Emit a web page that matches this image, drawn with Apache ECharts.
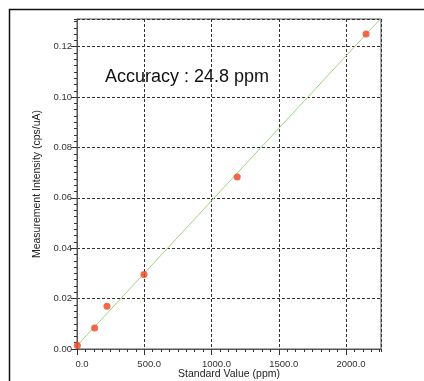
<!DOCTYPE html>
<html>
<head>
<meta charset="utf-8">
<script src="https://cdn.jsdelivr.net/npm/echarts@6/dist/echarts.min.js"></script>
<style>
  html, body {margin: 0; padding: 0; background: #fff;}
  #chart {width: 424px; height: 381px;}
</style>
</head>
<body>
<div id="chart"></div>
<script>
  // standards (ppm) and measured intensity (cps/uA)
  const standardValues = [3, 131, 223, 498, 1191, 2149];
  const intensities = [0.0014, 0.0083, 0.0170, 0.0296, 0.0683, 0.1250];
  // calibration line end points
  const fitX = [0, 2260];
  const fitY = [0.0013, 0.1313];
  const xRange = [0, 2260];
  const yRange = [0, 0.131];
  const accuracyText = 'Accuracy : 24.8 ppm';

  const font = 'Liberation Sans, Arial, Helvetica, sans-serif';
  const axisColor = '#555';

  const chart = echarts.init(document.getElementById('chart'));

  const mainX = {
    type: 'value',
    min: xRange[0], max: xRange[1], interval: 500,
    axisLine: {lineStyle: {color: axisColor, width: 1}},
    axisTick: {length: 6, lineStyle: {color: '#333'}},
    axisLabel: {
      color: '#333', fontFamily: font, fontSize: 9.5, margin: 10,
      padding: [0, 0, 0, 10],
      showMaxLabel: false,
      formatter: v => (v % 500 === 0 ? v.toFixed(1) : '')
    },
    splitLine: {lineStyle: {color: '#333', type: [3, 2], width: 1}},
    name: 'Standard Value (ppm)',
    nameLocation: 'middle', nameGap: 20, nameMoveOverlap: false,
    nameTextStyle: {color: '#222', fontFamily: font, fontSize: 10.5}
  };
  const minorX = {
    type: 'value',
    position: 'bottom',
    min: xRange[0], max: xRange[1], interval: 62.5,
    axisLine: {show: false},
    axisTick: {length: 3, lineStyle: {color: '#333'}},
    axisLabel: {show: false},
    splitLine: {show: false}
  };
  const mainY = {
    type: 'value',
    min: yRange[0], max: yRange[1], interval: 0.02,
    axisLine: {show: true, lineStyle: {color: axisColor, width: 1}},
    axisTick: {show: true, length: 6, lineStyle: {color: '#333'}},
    axisLabel: {
      color: '#333', fontFamily: font, fontSize: 9.5, margin: 5,
      showMaxLabel: false,
      formatter: v => v.toFixed(2)
    },
    splitLine: {lineStyle: {color: '#333', type: [3, 2], width: 1}},
    name: 'Measurement Intensity (cps/uA)',
    nameLocation: 'middle', nameGap: 34, nameMoveOverlap: false,
    nameTextStyle: {color: '#222', fontFamily: font, fontSize: 10.5}
  };
  const minorY = {
    type: 'value',
    position: 'left',
    min: yRange[0], max: yRange[1], interval: 0.0025,
    axisLine: {show: false},
    axisTick: {show: true, length: 3, lineStyle: {color: '#333'}},
    axisLabel: {show: false},
    splitLine: {show: false}
  };

  chart.setOption({
    animation: false,
    backgroundColor: '#fff',
    grid: {
      left: 77, top: 19, right: 43, bottom: 32,
      outerBoundsMode: 'none',
      show: true, borderColor: axisColor, borderWidth: 1
    },
    xAxis: [mainX, minorX],
    yAxis: [mainY, minorY],
    graphic: [
      {
        type: 'rect', left: 7, top: 7, silent: true,
        shape: {width: 520, height: 420},
        style: {fill: 'none', stroke: '#111', lineWidth: 1.5}
      },
      {
        type: 'text', x: 105, y: 77, silent: true,
        style: {
          text: accuracyText, fill: '#111', fontFamily: font,
          fontSize: 18, verticalAlign: 'middle'
        }
      }
    ],
    series: [
      {
        type: 'line',
        data: fitX.map((x, i) => [x, fitY[i]]),
        symbol: 'none',
        lineStyle: {color: '#9fd486', width: 1},
        z: 2
      },
      {
        type: 'scatter',
        data: standardValues.map((x, i) => [x, intensities[i]]),
        symbolSize: 7,
        itemStyle: {color: '#f2441d'},
        z: 3
      }
    ]
  });
</script>
</body>
</html>
